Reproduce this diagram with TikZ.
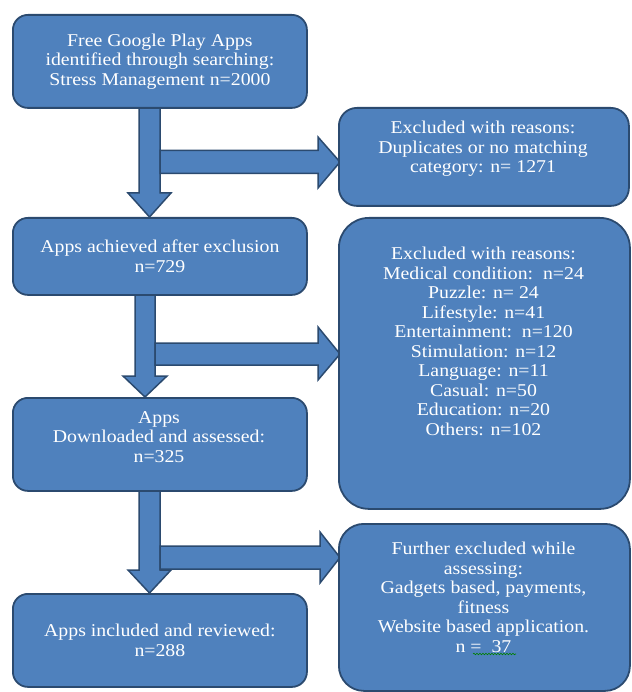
\documentclass[tikz,border=0pt]{standalone}
\usepackage{fontspec}
\setmainfont{Liberation Serif}[FakeStretch=1.1]
\usetikzlibrary{decorations.pathmorphing}
\definecolor{bfill}{HTML}{4F81BD}
\definecolor{bdraw}{HTML}{2B4A6F}
\tikzset{
  box/.style={draw=bdraw, fill=bfill, line width=1.8pt, rounded corners=15pt,
    anchor=north west, inner sep=0pt, text=white, align=center,
    font=\fontsize{18}{19.5}\selectfont},
  txt/.style={text=white, align=center, font=\fontsize{18}{19.5}\selectfont,
    inner sep=0pt, anchor=north},
  blockarrow/.style={draw=bdraw, fill=bfill, line width=1.5pt, line join=miter},
}
\begin{document}
\begin{tikzpicture}[x=1pt,y=-1pt]
\useasboundingbox (0,0) rectangle (631,692);
% block arrows (drawn below the boxes)
\draw[blockarrow] (139,100) -- (139,193) -- (128,193) -- (149.5,217) -- (171,193) -- (160,193) -- (160,100) -- cycle;
\draw[blockarrow] (160,150.5) -- (318,150.5) -- (318,137) -- (340,162) -- (318,188) -- (318,173.5) -- (160,173.5) -- cycle;
\draw[blockarrow] (135,290) -- (135,376) -- (123,376) -- (145,397) -- (167,376) -- (155,376) -- (155,290) -- cycle;
\draw[blockarrow] (155,343) -- (318,343) -- (318,327) -- (340,354) -- (318,380) -- (318,365) -- (155,365) -- cycle;
\draw[blockarrow] (139,486) -- (139,570) -- (128,570) -- (149.5,593) -- (171,570) -- (160,570) -- (160,486) -- cycle;
\draw[blockarrow] (160,546) -- (320,546) -- (320,532) -- (340,557.5) -- (320,583) -- (320,569) -- (160,569) -- cycle;
% boxes
\node[box, minimum width=294pt, minimum height=93pt] (b1) at (12,14)
  {Free Google Play Apps\\identified through searching:\\Stress Management n=2000};
\node[box, minimum width=290pt, minimum height=98pt, rounded corners=18pt] (b2) at (338,107) {};
\node[box, minimum width=294pt, minimum height=77pt] (b3) at (12,217)
  {Apps achieved after exclusion\\n=729};
\node[box, minimum width=291pt, minimum height=291pt, rounded corners=30pt] (b4) at (338,217) {};
\node[box, minimum width=294pt, minimum height=93pt] (b5) at (12,397) {};
\node[box, minimum width=291pt, minimum height=167pt, rounded corners=25pt] (b6) at (338,523) {};
\node[box, minimum width=294pt, minimum height=93pt] (b7) at (12,593)
  {Apps included and reviewed:\\n=288};
% texts
\node[txt] (t2) at (483,121) {Excluded with reasons:\\Duplicates or no matching\\category: n= 1271};
\node[txt] (t4) at (483.5,247) {Excluded with reasons:\\Medical condition:\ \ n=24\\Puzzle: n= 24\\Lifestyle: n=41\\Entertainment:\ \ n=120\\Stimulation: n=12\\Language: n=11\\Casual: n=50\\Education: n=20\\Others: n=102};
\node[txt] (t5) at (159,411) {Apps\\Downloaded and assessed:\\n=325};
\node[txt] (t6) at (483.5,542) {Further excluded while\\assessing:\\Gadgets based, payments,\\fitness\\Website based application.\\n =\ \ 37};
\draw[green!50!black, line width=0.6pt, decorate, decoration={snake, amplitude=0.8pt, segment length=3pt}]
  (473,654) -- (516,654);
\end{tikzpicture}
\end{document}
